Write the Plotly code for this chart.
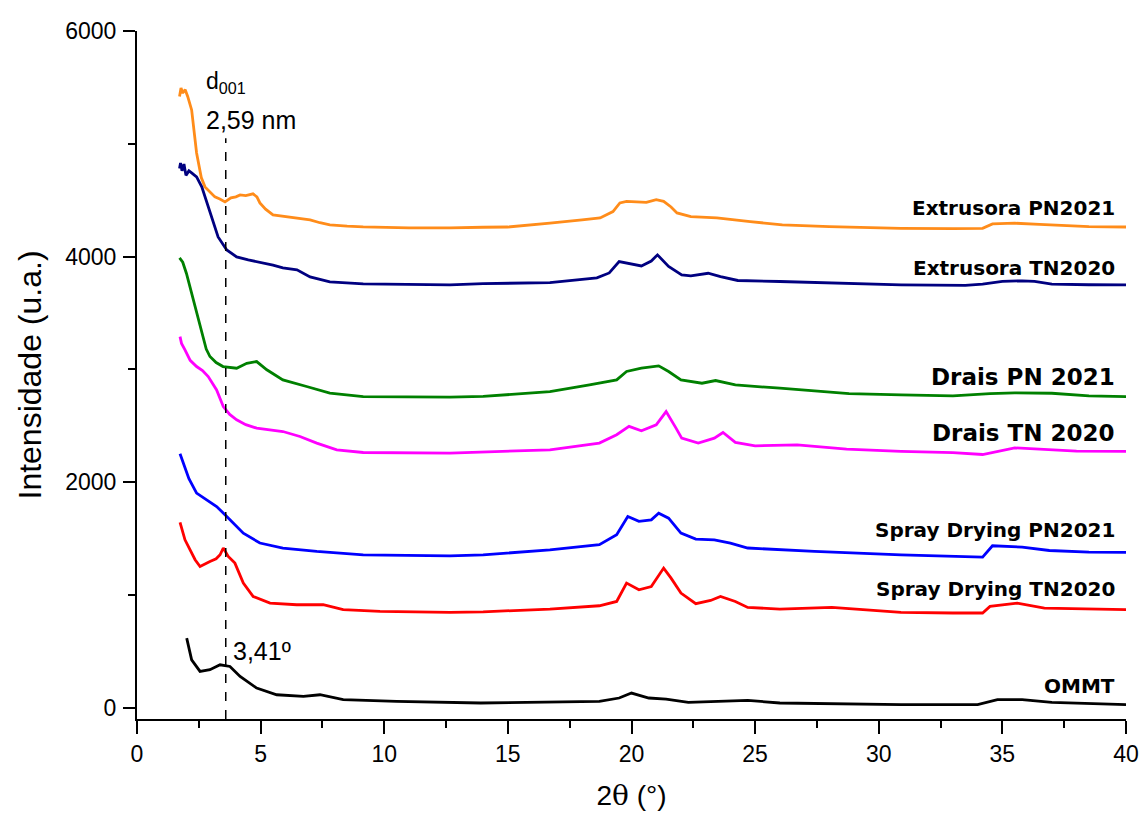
import plotly.graph_objects as go

# ---- data ----
x_ext_pn = [1.72, 1.78, 1.85, 1.95, 2.05, 2.21, 2.41, 2.6, 2.75, 3.0, 3.15, 3.35, 3.56, 3.8, 4.0, 4.17, 4.4, 4.69, 4.85, 4.97, 5.2, 5.5, 6.0, 6.47, 7.0, 7.4, 7.8, 8.5, 9.15, 11, 12.66, 14, 15, 16.7, 17.5, 18.0, 18.73, 19.25, 19.53, 19.8, 20.2, 20.6, 21.0, 21.3, 21.6, 21.84, 22.4, 23.45, 24.8, 26.1, 28, 30.9, 33, 34.2, 34.6, 35.5, 36.5, 37.5, 38.5, 40]
y_ext_pn = [5420, 5495, 5450, 5480, 5420, 5300, 4919, 4700, 4618, 4560, 4529, 4510, 4485, 4520, 4530, 4547, 4540, 4556, 4530, 4476, 4420, 4369, 4355, 4343, 4325, 4300, 4281, 4270, 4263, 4255, 4254, 4260, 4262, 4296, 4310, 4325, 4343, 4399, 4476, 4490, 4485, 4480, 4505, 4490, 4440, 4387, 4354, 4343, 4310, 4281, 4265, 4250, 4248, 4250, 4290, 4296, 4285, 4275, 4265, 4262]

x_ext_tn = [1.72, 1.76, 1.82, 1.9, 1.98, 2.1, 2.21, 2.41, 2.62, 2.95, 3.28, 3.63, 4.03, 4.5, 5.1, 5.5, 5.9, 6.47, 7.0, 7.8, 9.15, 11, 12.66, 14, 16.7, 18.6, 19.1, 19.5, 19.9, 20.4, 20.8, 21.05, 21.5, 22.03, 22.4, 23.1, 23.6, 24.3, 26.0, 28, 30.9, 33.5, 34.2, 35.0, 35.8, 36.3, 37, 38.5, 40]
y_ext_tn = [4780, 4830, 4760, 4820, 4720, 4760, 4742, 4706, 4618, 4387, 4174, 4059, 3997, 3970, 3944, 3925, 3900, 3882, 3820, 3776, 3758, 3755, 3749, 3760, 3769, 3811, 3855, 3956, 3941, 3917, 3960, 4015, 3912, 3838, 3829, 3852, 3823, 3788, 3779, 3765, 3749, 3745, 3755, 3780, 3785, 3780, 3755, 3750, 3749]

x_drais_pn = [1.72, 1.85, 2.0, 2.2, 2.35, 2.5, 2.62, 2.8, 2.95, 3.2, 3.48, 4.03, 4.44, 4.84, 5.25, 5.9, 6.86, 7.8, 9.15, 12.66, 14, 16.7, 18.3, 19.4, 19.8, 20.4, 21.1, 21.5, 22.0, 22.85, 23.4, 24.2, 26.0, 28.8, 30.9, 33, 34.5, 35.5, 37, 38.5, 40]
y_drais_pn = [3988, 3950, 3850, 3680, 3560, 3430, 3324, 3180, 3114, 3060, 3025, 3010, 3054, 3069, 2996, 2907, 2848, 2789, 2759, 2753, 2760, 2803, 2862, 2907, 2981, 3010, 3031, 2981, 2907, 2877, 2901, 2862, 2833, 2785, 2774, 2765, 2785, 2792, 2788, 2765, 2759]

x_drais_tn = [1.74, 1.8, 1.94, 2.15, 2.41, 2.65, 2.88, 3.22, 3.49, 3.75, 4.03, 4.4, 4.84, 5.4, 5.9, 6.59, 7.27, 8.08, 9.15, 12.66, 14, 16.7, 18.7, 19.4, 19.9, 20.4, 21.0, 21.4, 21.8, 22.03, 22.7, 23.35, 23.7, 24.2, 25.0, 26.7, 28.7, 30.9, 33, 34.2, 35.5, 36.5, 38, 40]
y_drais_tn = [3290, 3230, 3173, 3080, 3025, 2990, 2936, 2818, 2670, 2600, 2553, 2510, 2479, 2460, 2449, 2405, 2346, 2287, 2263, 2257, 2265, 2287, 2346, 2420, 2494, 2455, 2508, 2626, 2479, 2390, 2346, 2390, 2440, 2352, 2322, 2331, 2293, 2272, 2262, 2245, 2304, 2295, 2275, 2272]

x_spray_pn = [1.74, 1.9, 2.1, 2.41, 2.82, 3.22, 3.63, 4.3, 4.97, 5.9, 7.27, 9.15, 12.66, 14, 16.7, 18.7, 19.4, 19.85, 20.3, 20.8, 21.1, 21.5, 22.0, 22.6, 23.35, 24.0, 24.7, 27.4, 30.9, 32.9, 34.2, 34.6, 35.8, 36.9, 38.5, 40]
y_spray_pn = [2251, 2150, 2030, 1903, 1843, 1784, 1696, 1548, 1460, 1416, 1386, 1356, 1347, 1355, 1400, 1445, 1533, 1696, 1652, 1666, 1725, 1681, 1548, 1495, 1489, 1460, 1416, 1386, 1356, 1340, 1335, 1436, 1424, 1394, 1380, 1377]

x_spray_tn = [1.74, 1.94, 2.35, 2.55, 2.95, 3.2, 3.36, 3.49, 3.69, 3.96, 4.3, 4.7, 5.38, 6.46, 7.53, 8.34, 9.83, 12.66, 14, 16.7, 18.7, 19.4, 19.8, 20.3, 20.8, 21.3, 21.6, 22.0, 22.6, 23.2, 23.6, 24.2, 24.7, 26.0, 28.1, 30.9, 33, 34.2, 34.5, 35.6, 36.7, 38.5, 40]
y_spray_tn = [1643, 1489, 1312, 1252, 1297, 1320, 1356, 1416, 1341, 1282, 1105, 986, 927, 913, 913, 869, 854, 845, 850, 875, 904, 942, 1105, 1046, 1075, 1238, 1149, 1016, 922, 951, 986, 942, 889, 875, 890, 845, 840, 840, 898, 927, 883, 872, 869]

x_ommt = [2.01, 2.1, 2.21, 2.55, 2.95, 3.36, 3.76, 4.17, 4.84, 5.65, 6.73, 7.4, 8.34, 10.5, 13.9, 18.7, 19.5, 20.0, 20.7, 21.4, 22.3, 24.7, 26.0, 30.9, 34, 34.8, 35.8, 37, 40]
y_ommt = [617, 520, 425, 322, 337, 381, 366, 277, 174, 115, 100, 115, 71, 56, 42, 56, 86, 130, 86, 77, 47, 65, 42, 27, 27, 71, 71, 47, 27]

series_names = ["Extrusora PN2021", "Extrusora TN2020", "Drais PN 2021", "Drais TN 2020",
                "Spray Drying PN2021", "Spray Drying TN2020", "OMMT"]
series_x = [x_ext_pn, x_ext_tn, x_drais_pn, x_drais_tn, x_spray_pn, x_spray_tn, x_ommt]
series_y = [y_ext_pn, y_ext_tn, y_drais_pn, y_drais_tn, y_spray_pn, y_spray_tn, y_ommt]
colors = ["#FF8C1A", "#000080", "#008000", "#FF00FF", "#0000FF", "#FF0000", "#000000"]
label_y = [4431, 3900, 2934, 2437, 1578, 1055, 195]
label_size = [20, 20, 23, 23, 20, 20, 20]

d001_x = 3.59

fig = go.Figure()
for nm, xs, ys, c in zip(series_names, series_x, series_y, colors):
    fig.add_trace(go.Scatter(x=xs, y=ys, mode="lines", name=nm,
                             line=dict(color=c, width=2.8), showlegend=False))

for nm, ly, sz in zip(series_names, label_y, label_size):
    fig.add_annotation(x=39.65, y=ly, text=f"<b>{nm}</b>", showarrow=False,
                       xanchor="right", yanchor="middle",
                       font=dict(family="DejaVu Sans", size=sz, color="black"))

fig.add_shape(type="line", x0=d001_x, x1=d001_x, y0=-100, y1=5050,
              line=dict(color="black", width=1.5, dash="dash"))

ann_font = dict(family="Liberation Sans, Arial", size=25, color="black")
fig.add_annotation(x=2.72, y=5545, text="d<sub>001</sub>", showarrow=False,
                   xanchor="left", yanchor="middle",
                   font=dict(family="Liberation Sans, Arial", size=23, color="black"))
fig.add_annotation(x=2.72, y=5215, text="2,59 nm", showarrow=False,
                   xanchor="left", yanchor="middle", font=ann_font)
fig.add_annotation(x=3.80, y=500, text="3,41º", showarrow=False,
                   xanchor="left", yanchor="middle", font=ann_font)

fig.update_layout(
    width=1141, height=817, autosize=False,
    margin=dict(l=137, r=15, t=31, b=98),
    plot_bgcolor="white", paper_bgcolor="white",
    font=dict(family="Liberation Sans, Arial", color="black"),
    xaxis=dict(range=[0, 40], tickvals=[0, 5, 10, 15, 20, 25, 30, 35, 40],
               ticks="outside", ticklen=13, tickwidth=2, tickcolor="black",
               minor=dict(dtick=2.5, tick0=0, ticks="outside", ticklen=7, tickwidth=2, tickcolor="black"),
               showline=True, linewidth=2, linecolor="black", showgrid=False, zeroline=False,
               automargin=False,
               tickfont=dict(size=23, family="Liberation Sans, Arial"),
               title=dict(text="2<span style='font-family:DejaVu Serif'>θ</span> (°)",
                          font=dict(size=28, family="Liberation Sans, Arial"), standoff=20)),
    yaxis=dict(range=[-100, 6000], tickvals=[0, 2000, 4000, 6000],
               ticks="outside", ticklen=12, tickwidth=2, tickcolor="black",
               minor=dict(dtick=1000, tick0=0, ticks="outside", ticklen=7, tickwidth=2, tickcolor="black"),
               showline=True, linewidth=2, linecolor="black", showgrid=False, zeroline=False,
               automargin=False,
               tickfont=dict(size=23, family="Liberation Sans, Arial"),
               ticklabelstandoff=2,
               title=dict(text="Intensidade (u.a.)", font=dict(size=32, family="Liberation Sans, Arial"),
                          standoff=14)),
)

fig.write_html("out.html")
